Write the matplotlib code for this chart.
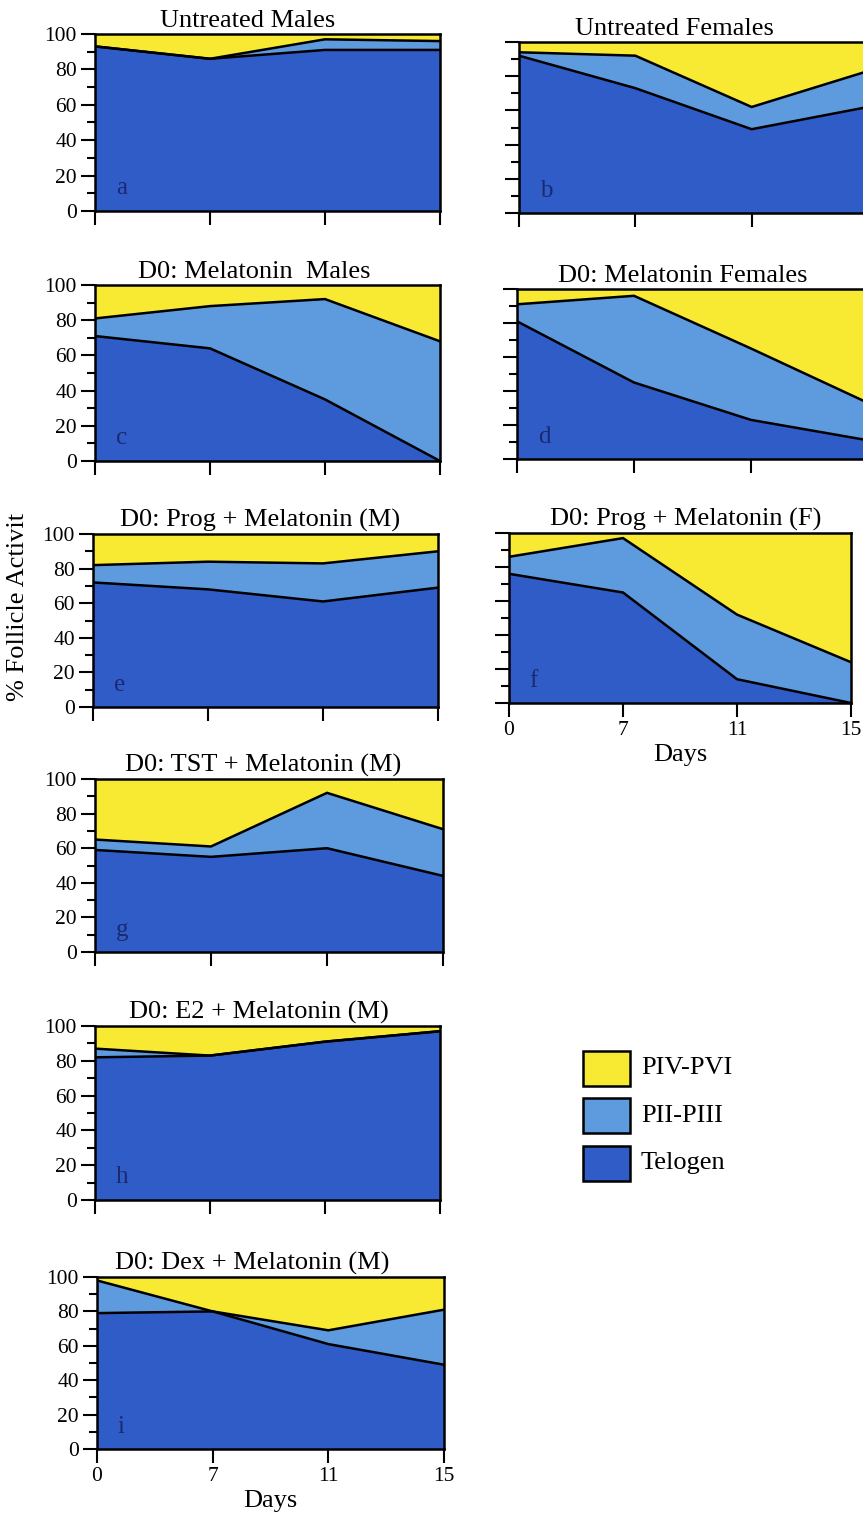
import matplotlib.pyplot as plt
from matplotlib.patches import Rectangle
from matplotlib.ticker import MultipleLocator

plt.rcParams['font.family'] = ['Liberation Serif', 'DejaVu Serif']

# ---------------------------
# data: % of follicles in each stage at each sampling day
# ---------------------------
days = ['0', '7', '11', '15']
layers = ['Telogen', 'PII-PIII', 'PIV-PVI']
colors = ['#2f5cc6', '#5e9ade', '#f8e932']

a_tel = [93, 86, 91, 91]
a_pii = [0, 0, 6, 5]
a_piv = [7, 14, 3, 4]

b_tel = [92, 73, 49, 62]
b_pii = [2, 19, 13, 21]
b_piv = [6, 8, 38, 17]

c_tel = [71, 64, 35, 0]
c_pii = [10, 24, 57, 68]
c_piv = [19, 12, 8, 32]

d_tel = [81, 45, 23, 11]
d_pii = [10, 51, 42, 22]
d_piv = [9, 4, 35, 67]

e_tel = [72, 68, 61, 69]
e_pii = [10, 16, 22, 21]
e_piv = [18, 16, 17, 10]

f_tel = [76, 65, 14, 0]
f_pii = [10, 32, 38, 24]
f_piv = [14, 3, 48, 76]

g_tel = [59, 55, 60, 44]
g_pii = [6, 6, 32, 27]
g_piv = [35, 39, 8, 29]

h_tel = [82, 83, 91, 97]
h_pii = [5, 0, 0, 0]
h_piv = [13, 17, 9, 3]

i_tel = [79, 80, 61, 49]
i_pii = [19, 0, 8, 32]
i_piv = [2, 20, 31, 19]

# letter, title, series, axes box in px (left, right, top, bottom), title centre px, column
panels = [
    ('a', 'Untreated Males', (a_tel, a_pii, a_piv), (95, 440, 34, 211), 248, 'L'),
    ('b', 'Untreated Females', (b_tel, b_pii, b_piv), (519, 868, 42, 213), 674, 'R'),
    ('c', 'D0: Melatonin  Males', (c_tel, c_pii, c_piv), (95, 440, 285, 461), 254, 'L'),
    ('d', 'D0: Melatonin Females', (d_tel, d_pii, d_piv), (517, 868, 289, 459), 683, 'R'),
    ('e', 'D0: Prog + Melatonin (M)', (e_tel, e_pii, e_piv), (93, 438, 534, 707), 260, 'L'),
    ('f', 'D0: Prog + Melatonin (F)', (f_tel, f_pii, f_piv), (509, 851, 533, 703), 686, 'R'),
    ('g', 'D0: TST + Melatonin (M)', (g_tel, g_pii, g_piv), (95, 443, 779, 952), 263, 'L'),
    ('h', 'D0: E2 + Melatonin (M)', (h_tel, h_pii, h_piv), (95, 440, 1026, 1200), 259, 'L'),
    ('i', 'D0: Dex + Melatonin (M)', (i_tel, i_pii, i_piv), (97, 444, 1277, 1449), 252, 'L'),
]
with_days = ('f', 'i')

W, H = 863, 1514
fig = plt.figure(figsize=(W / 100, H / 100), dpi=100)

def px_axes(l, r, t, b):
    return fig.add_axes([l / W, 1 - b / H, (r - l) / W, (b - t) / H])

xpos = list(range(len(days)))
for letter, title, series, box, tcx, col in panels:
    ax = px_axes(*box)
    tel, pii, piv = series
    ax.stackplot(xpos, tel, pii, piv, colors=colors, linewidth=0)
    cum = [t + p for t, p in zip(tel, pii)]
    ax.plot(xpos, tel, color='k', lw=1.8, solid_joinstyle='miter')
    ax.plot(xpos, cum, color='k', lw=1.8, solid_joinstyle='miter')
    ax.set_xlim(0, len(days) - 1)
    ax.set_ylim(0, 100)
    ax.set_xticks(xpos)
    ax.yaxis.set_major_locator(MultipleLocator(20))
    ax.yaxis.set_minor_locator(MultipleLocator(10))
    ax.tick_params(which='major', length=10, width=1.5, direction='out',
                   labelsize=15.5, pad=3)
    ax.tick_params(which='minor', length=6, width=1.5, direction='out')
    for s in ax.spines.values():
        s.set_linewidth(1.8)
    if letter in with_days:
        ax.set_xticklabels(days)
        ax.set_xlabel('Days', fontsize=19, labelpad=3)
    else:
        ax.tick_params(axis='x', labelbottom=False)
    if col == 'R':
        ax.tick_params(axis='y', labelleft=False)
    tx = (tcx - box[0]) / (box[1] - box[0])
    ax.set_title(title, fontsize=19, pad=5, x=tx)
    ax.text(0.06, 0.13, letter, transform=ax.transAxes, fontsize=18,
            color='#1b2a70', va='center', ha='left')

fig.text(18 / W, 1 - 607 / H, '% Follicle Activit', rotation=90,
         fontsize=19, ha='center', va='center')

# legend boxes, top to bottom
leg_tops = [1051, 1098, 1146]
for k, top in enumerate(leg_tops):
    idx = len(layers) - 1 - k
    fig.patches.append(Rectangle((583 / W, 1 - (top + 35) / H), 47 / W, 35 / H,
                                 transform=fig.transFigure, facecolor=colors[idx],
                                 edgecolor='k', linewidth=1.8))
    fig.text(641 / W, 1 - (top + 17.5) / H, layers[idx], fontsize=19,
             ha='left', va='center')

fig.savefig('out.png', dpi=100)
